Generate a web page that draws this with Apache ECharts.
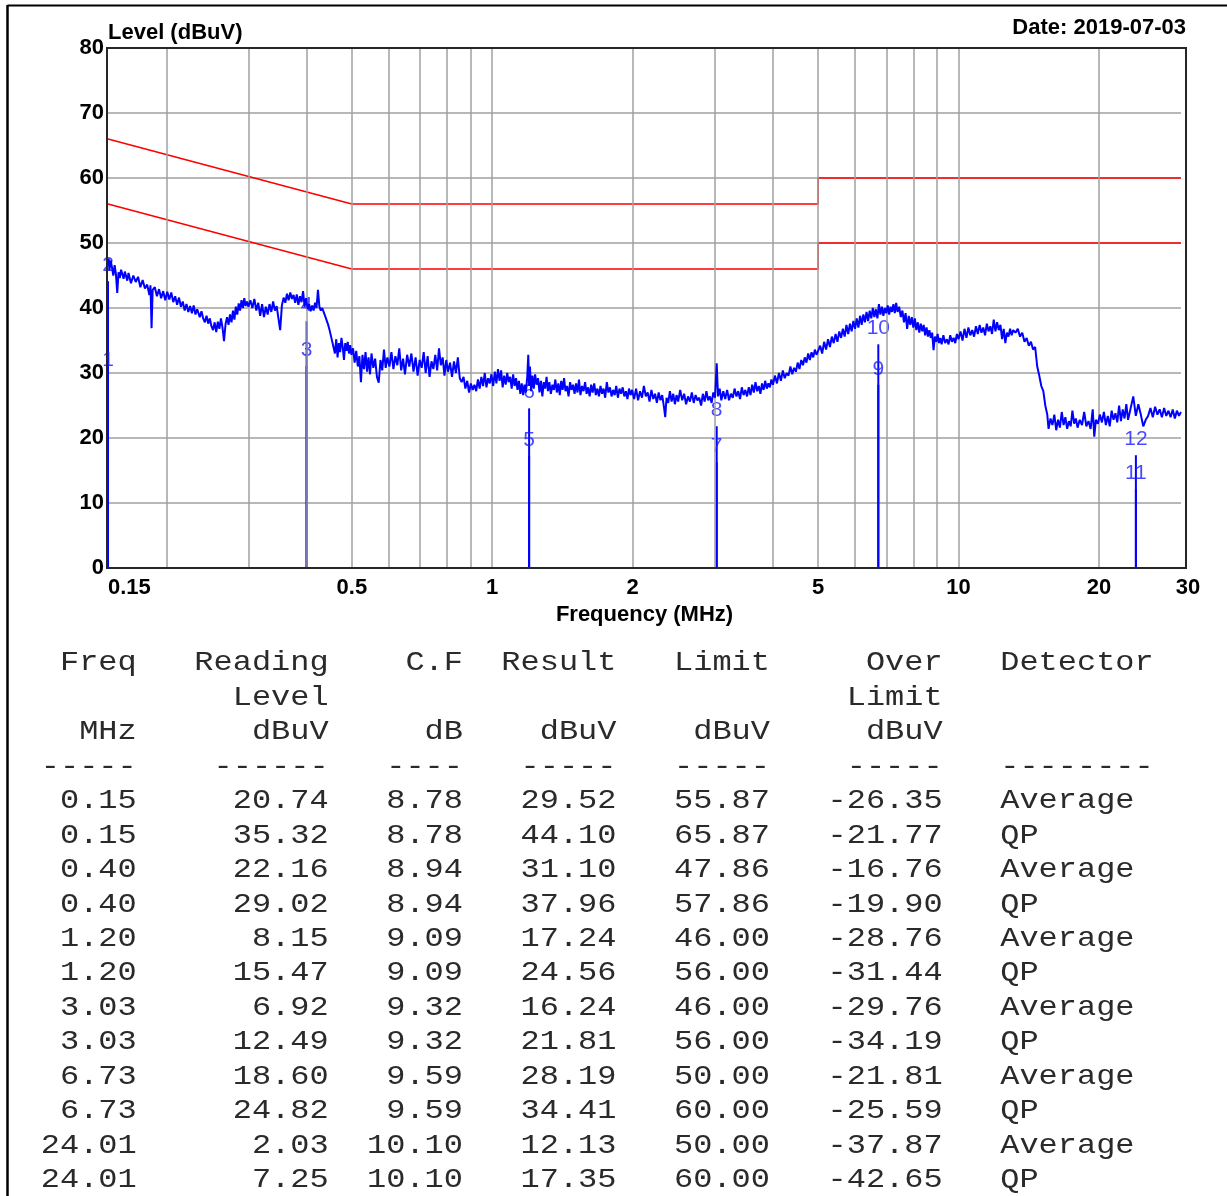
<!DOCTYPE html>
<html><head><meta charset="utf-8">
<script src="https://cdn.jsdelivr.net/npm/echarts@6/dist/echarts.min.js"></script>
<style>html,body{margin:0;padding:0;background:#fff}#c{width:1227px;height:1196px}</style>
</head><body><div id="c"></div>
<script>
// ---------------- data ----------------
const dateText = 'Date: 2019-07-03';
const yTitle = 'Level (dBuV)';
const xTitle = 'Frequency (MHz)';

const gridFreqs = [0.2,0.3,0.4,0.5,0.6,0.7,0.8,0.9,1,2,3,4,5,6,7,8,9,10,20];
const xTickLabels = [0.15,0.5,1,2,5,10,20,30];

const limitFreq = [0.15, 0.5, 5, 5, 30];
const qpLimit   = [66, 56, 56, 60, 60];
const avgLimit  = [56, 46, 46, 50, 50];

const tableFreq = [0.15,0.15,0.40,0.40,1.20,1.20,3.03,3.03,6.73,6.73,24.01,24.01];
const tableReading = [20.74,35.32,22.16,29.02,8.15,15.47,6.92,12.49,18.60,24.82,2.03,7.25];
const tableCF = [8.78,8.78,8.94,8.94,9.09,9.09,9.32,9.32,9.59,9.59,10.10,10.10];
const tableResult = [29.52,44.10,31.10,37.96,17.24,24.56,16.24,21.81,28.19,34.41,12.13,17.35];
const tableLimit = [55.87,65.87,47.86,57.86,46.00,56.00,46.00,56.00,50.00,60.00,50.00,60.00];
const tableOver = [-26.35,-21.77,-16.76,-19.90,-28.76,-31.44,-29.76,-34.19,-21.81,-25.59,-37.87,-42.65];
const tableDetector = ['Average','QP','Average','QP','Average','QP','Average','QP','Average','QP','Average','QP'];
const headerRows = [
  ['Freq','Reading','C.F','Result','Limit','Over','Detector'],
  ['','Level','','','','Limit',''],
  ['MHz','dBuV','dB','dBuV','dBuV','dBuV',''],
  ['-----','------','----','-----','-----','-----','--------']
];

// measured spectrum trace [MHz, dBuV]
const trace = [
[0.150,46.5],[0.1505,47.6],[0.151,45.8],[0.152,47.3],[0.153,46.2],[0.154,45.0],[0.155,46.6],[0.156,45.2],[0.157,42.3],[0.158,45.5],[0.159,44.6],[0.160,45.9],[0.162,44.5],[0.163,45.6],[0.165,44.2],[0.166,45.4],[0.168,43.8],[0.170,45.0],[0.172,44.0],[0.174,44.8],[0.176,43.2],[0.178,44.3],[0.180,43.0],[0.182,43.6],[0.184,42.0],[0.185,43.5],[0.186,36.9],[0.187,42.8],[0.189,43.2],[0.191,41.8],[0.193,42.9],[0.195,41.5],[0.197,42.6],[0.199,41.2],[0.201,42.5],
[0.203,41.3],[0.205,42.4],[0.207,40.9],[0.209,41.8],[0.211,40.5],[0.213,41.6],[0.215,40.2],[0.217,41.0],[0.219,39.6],[0.221,40.6],[0.223,39.4],[0.225,40.3],[0.227,39.2],[0.229,40.4],[0.231,39.0],[0.233,39.8],[0.236,38.6],[0.238,39.5],[0.240,38.4],[0.242,37.8],[0.244,38.8],[0.246,37.6],[0.248,38.4],[0.250,37.2],[0.252,36.6],[0.254,37.8],[0.256,36.3],[0.258,37.9],[0.260,36.8],[0.262,38.4],[0.264,37.0],[0.266,34.9],[0.268,37.5],[0.270,38.6],[0.272,37.4],[0.274,39.0],[0.276,37.8],[0.278,39.6],[0.280,38.2],[0.282,40.2],[0.284,39.0],[0.286,40.7],[0.288,39.6],[0.290,41.2],[0.292,40.0],[0.294,41.5],[0.296,40.3],[0.298,41.0],[0.300,40.2],
[0.303,41.2],[0.306,40.0],[0.309,41.4],[0.312,39.6],[0.315,40.8],[0.318,38.8],[0.321,40.6],[0.324,38.6],[0.327,40.2],[0.330,39.0],[0.333,40.6],[0.336,39.4],[0.339,41.0],[0.342,39.6],[0.345,40.3],[0.348,38.4],[0.351,36.6],[0.354,40.4],[0.357,41.6],[0.360,40.8],[0.363,42.2],[0.366,41.2],[0.369,42.4],[0.372,41.4],[0.375,42.0],[0.378,40.8],[0.381,42.1],[0.384,40.5],[0.387,41.8],[0.390,40.9],[0.393,42.6],[0.396,40.2],[0.399,41.5],[0.402,39.8],[0.405,40.6],[0.408,39.5],[0.411,40.4],[0.414,39.6],[0.417,40.8],[0.420,40.0],[0.423,42.8],[0.426,40.2],[0.429,39.6],[0.432,40.0],[0.436,39.2],[0.440,38.4],[0.444,37.6],[0.448,36.6],[0.452,35.4],[0.456,34.2],[0.460,33.0],[0.463,35.2],[0.466,32.4],[0.469,34.6],[0.472,33.2],[0.475,35.4],[0.478,34.0],[0.481,32.0],[0.484,34.6],[0.487,33.4],[0.490,34.8],[0.493,33.0],[0.496,34.3],[0.499,32.8],
[0.503,33.8],[0.507,31.6],[0.511,33.4],[0.515,31.0],[0.519,32.6],[0.523,28.6],[0.527,32.8],[0.531,30.6],[0.535,33.2],[0.539,30.2],[0.543,32.4],[0.547,29.8],[0.551,33.0],[0.556,30.8],[0.561,32.2],[0.566,29.4],[0.571,28.5],[0.576,32.0],[0.581,30.4],[0.586,33.6],[0.591,30.8],[0.596,32.4],[0.602,31.0],[0.608,33.2],[0.614,30.6],[0.620,32.6],[0.626,31.2],[0.632,33.8],[0.638,30.4],[0.644,32.2],[0.650,29.8],[0.657,32.8],[0.664,31.0],[0.671,33.0],[0.678,30.2],[0.685,32.4],[0.692,29.6],[0.699,32.0],[0.706,30.8],[0.713,33.2],[0.720,30.0],[0.727,32.6],[0.734,29.4],[0.741,31.8],[0.748,30.6],[0.755,32.8],[0.762,30.4],[0.769,33.8],[0.776,31.2],[0.783,32.4],[0.790,29.6],[0.797,32.0],[0.804,30.2],[0.812,31.6],[0.820,29.4],[0.828,31.8],[0.836,30.0],[0.844,32.4],[0.852,29.2],[0.860,28.6],[0.868,29.4],[0.876,27.6],[0.884,28.8],[0.892,27.0],[0.900,28.4],[0.908,27.4],[0.916,28.2],[0.924,27.2],[0.932,29.0],[0.940,27.6],[0.948,29.4],[0.956,28.0],[0.964,30.0],[0.972,27.8],[0.980,29.2],[0.988,28.4],[0.996,29.8],
[1.005,28.0],[1.013,30.2],[1.021,28.4],[1.029,30.6],[1.037,28.8],[1.045,30.4],[1.053,27.8],[1.061,29.6],[1.069,28.2],[1.077,30.0],[1.085,28.6],[1.093,29.4],[1.101,27.6],[1.109,29.8],[1.117,28.0],[1.125,29.2],[1.133,27.4],[1.141,28.8],[1.149,26.8],[1.157,28.4],[1.165,26.6],[1.173,28.2],[1.181,27.0],[1.189,29.4],[1.195,32.8],[1.200,28.0],[1.205,31.0],[1.212,27.2],[1.220,29.6],[1.228,27.6],[1.236,29.8],[1.245,28.2],[1.254,29.2],[1.263,27.0],[1.272,28.8],[1.281,26.4],[1.290,28.6],[1.299,27.6],[1.308,29.4],[1.317,27.2],[1.326,28.6],[1.336,26.8],[1.346,28.2],[1.356,27.4],[1.366,29.0],[1.376,27.0],[1.386,28.4],[1.396,26.6],[1.406,28.8],[1.416,27.4],[1.426,29.2],[1.436,27.2],[1.447,28.0],[1.458,26.4],[1.469,28.6],[1.480,27.4],[1.491,28.2],[1.502,26.8],[1.513,28.4],[1.524,27.0],[1.535,29.0],[1.546,26.6],[1.558,28.0],[1.570,27.2],[1.582,28.6],[1.594,26.8],[1.606,27.8],[1.618,26.4],[1.630,28.2],[1.642,27.0],[1.655,28.4],[1.668,26.6],[1.681,27.6],[1.694,26.4],[1.707,28.0],[1.720,26.8],[1.733,27.6],[1.747,26.2],[1.761,28.6],[1.775,27.0],[1.789,27.8],[1.803,26.4],[1.817,27.4],[1.831,26.6],[1.845,28.0],[1.860,26.2],[1.875,27.6],[1.890,26.8],[1.905,27.8],[1.920,26.4],[1.935,27.2],[1.950,26.0],[1.965,27.6],[1.980,26.6],
[1.995,27.4],[2.015,26.0],[2.035,27.6],[2.055,25.8],[2.075,27.2],[2.095,26.2],[2.115,28.0],[2.135,26.4],[2.155,27.0],[2.175,25.6],[2.195,27.4],[2.215,26.0],[2.235,26.8],[2.255,25.4],[2.275,27.0],[2.295,25.8],[2.315,26.6],[2.335,24.8],[2.350,23.2],[2.365,26.2],[2.385,25.4],[2.405,27.2],[2.425,25.6],[2.445,26.8],[2.465,25.2],[2.485,26.6],[2.505,25.6],[2.53,27.4],[2.555,25.8],[2.58,26.8],[2.605,25.2],[2.63,26.4],[2.655,25.6],[2.68,27.0],[2.705,25.4],[2.73,26.6],[2.755,25.8],[2.78,26.2],[2.805,25.0],[2.83,26.8],[2.855,25.6],[2.88,27.2],[2.905,25.8],[2.93,26.4],[2.955,25.4],[2.98,27.0],[3.005,26.2],[3.03,31.5],[3.05,26.4],[3.075,27.6],[3.10,25.8],[3.13,27.2],[3.16,26.0],[3.19,27.4],[3.22,25.8],[3.25,26.8],[3.28,26.2],[3.31,27.6],[3.34,26.4],[3.37,27.2],[3.40,26.0],[3.43,27.8],[3.46,26.6],[3.49,27.4],[3.52,26.4],[3.55,27.8],[3.58,26.6],[3.61,28.2],[3.64,27.0],[3.67,28.6],[3.70,27.2],[3.73,28.0],[3.76,26.8],[3.79,28.4],[3.82,27.4],[3.85,28.8],[3.88,27.6],[3.91,28.4],[3.94,27.8],[3.97,29.0],[4.00,28.2],[4.04,29.6],[4.08,28.4],[4.12,30.0],[4.16,28.8],[4.20,30.4],[4.24,29.2],[4.28,30.0],[4.32,29.6],[4.36,31.0],[4.40,29.8],[4.44,30.8],[4.48,30.2],[4.52,31.6],[4.56,30.6],[4.60,32.0],[4.64,31.2],[4.68,32.4],[4.72,31.6],[4.76,33.0],[4.80,32.0],[4.84,33.2],[4.88,32.4],[4.92,33.6],[4.96,32.8],[5.00,33.4],
[5.05,34.2],[5.10,33.0],[5.15,34.8],[5.20,33.6],[5.25,35.2],[5.30,34.0],[5.35,35.6],[5.40,34.6],[5.45,36.0],[5.50,34.8],[5.55,36.4],[5.60,35.4],[5.65,36.8],[5.70,35.6],[5.75,37.4],[5.80,36.0],[5.85,37.6],[5.90,36.4],[5.95,38.0],[6.00,36.8],[6.05,38.4],[6.10,37.0],[6.15,38.8],[6.20,37.4],[6.25,39.0],[6.30,37.8],[6.35,39.4],[6.40,38.0],[6.45,39.6],[6.50,38.4],[6.55,40.0],[6.60,38.6],[6.65,39.8],[6.70,38.4],[6.75,40.6],[6.80,39.0],[6.85,40.2],[6.90,38.8],[6.95,40.0],[7.00,39.2],[7.05,40.4],[7.10,39.0],[7.15,40.2],[7.20,39.4],[7.25,40.6],[7.30,39.2],[7.35,40.8],[7.40,39.4],[7.46,40.2],[7.52,38.6],[7.58,39.6],[7.64,37.8],[7.70,39.2],[7.76,36.8],[7.82,38.8],[7.88,37.4],[7.94,38.6],[8.00,37.0],[8.06,38.4],[8.12,36.6],[8.18,37.8],[8.24,36.2],[8.30,37.6],[8.36,36.4],[8.42,37.4],[8.48,35.8],[8.54,37.0],[8.60,35.6],[8.66,36.6],[8.72,35.4],[8.78,36.2],[8.84,33.5],[8.90,35.6],[8.96,34.8],[9.02,36.0],[9.08,34.6],[9.14,35.4],[9.20,34.4],[9.28,35.8],[9.36,34.6],[9.44,35.2],[9.52,34.4],[9.60,35.8],[9.68,34.8],[9.76,35.4],[9.84,34.6],[9.92,36.0],
[10.0,35.2],[10.1,36.4],[10.2,35.0],[10.3,36.8],[10.4,35.4],[10.5,37.0],[10.6,35.8],[10.7,36.6],[10.8,35.6],[10.9,37.2],[11.0,36.0],[11.1,37.4],[11.2,36.2],[11.3,37.0],[11.4,35.8],[11.5,37.6],[11.6,36.4],[11.7,37.2],[11.8,36.0],[11.9,38.2],[12.0,36.4],[12.1,37.8],[12.2,36.6],[12.3,37.4],[12.4,35.2],[12.5,36.8],[12.6,34.6],[12.7,36.2],[12.8,35.6],[12.9,36.8],[13.0,35.8],[13.1,36.6],[13.25,36.2],[13.4,36.8],[13.55,35.6],[13.7,36.2],[13.85,34.8],[14.0,35.4],[14.15,34.2],[14.3,34.8],[14.45,33.6],[14.6,34.0],[14.75,31.0],[14.9,29.6],[15.05,28.0],[15.2,27.2],[15.35,25.0],[15.5,23.6],[15.6,21.4],[15.75,23.0],[15.9,22.0],[16.05,23.6],[16.2,21.2],[16.35,22.8],[16.5,21.6],[16.65,24.0],[16.8,22.0],[16.95,23.2],[17.1,21.4],[17.25,22.6],[17.4,21.8],[17.55,24.2],[17.7,22.2],[17.85,23.0],[18.0,21.6],[18.2,22.8],[18.4,22.0],[18.6,24.0],[18.8,21.8],[19.0,22.6],[19.2,21.4],[19.4,24.4],[19.55,20.2],[19.7,22.8],[19.9,22.2],[20.1,23.6],[20.3,22.4],[20.5,24.0],[20.7,22.0],[20.9,23.4],[21.1,21.8],[21.3,24.2],[21.5,22.8],[21.7,23.8],[21.9,22.4],[22.1,25.0],[22.3,22.6],[22.5,24.4],[22.7,23.0],[22.9,25.2],[23.1,22.8],[23.4,24.6],[23.7,26.4],[24.0,23.4],[24.3,25.2],[24.6,23.6],[24.9,21.8],[25.2,22.8],[25.5,23.4],[25.8,24.6],[26.1,23.2],[26.4,24.8],[26.7,23.6],[27.0,24.4],[27.3,23.2],[27.6,24.6],[27.9,23.4],[28.2,24.2],[28.5,23.2],[28.8,24.4],[29.1,23.0],[29.4,24.2],[29.7,23.4],[30.0,24.0]
];

// ---------------- chart ----------------
const chart = echarts.init(document.getElementById('c'), null, {renderer: 'canvas'});
const SANS = '"Liberation Sans", Arial, sans-serif';
const MONO = '"Liberation Mono", "Courier New", monospace';

const markerData = tableFreq.map((f, i) => [f, tableResult[i], i + 1]);

const allX = Array.from(new Set(gridFreqs.concat(xTickLabels))).sort((a, b) => a - b);
const gridMarkData = allX.map(f => ({
  xAxis: f,
  lineStyle: {color: gridFreqs.includes(f) ? '#a0a0a0' : 'rgba(0,0,0,0)'},
  label: {
    show: xTickLabels.includes(f),
    formatter: String(f),
    position: 'start',
    distance: 9,
    align: f === 0.15 ? 'left' : 'center',
    offset: f === 30 ? [7, 0] : [0, 0],
    color: '#000', fontWeight: 'bold', fontSize: 22, fontFamily: SANS
  }
}));

// table text rows
const fmt = v => v.toFixed(2);
const rowStr = cells => cells[0].padStart(5) + cells[1].padStart(10) + cells[2].padStart(7) +
  cells[3].padStart(8) + cells[4].padStart(8) + cells[5].padStart(9) + (cells[6] ? '   ' + cells[6] : '');
const lines = headerRows.map(rowStr).concat(tableFreq.map((f, i) => rowStr([
  fmt(f), fmt(tableReading[i]), fmt(tableCF[i]), fmt(tableResult[i]), fmt(tableLimit[i]), fmt(tableOver[i]), tableDetector[i]
])));
const tableGraphics = lines.map((s, i) => ({
  type: 'text', x: 40.8, y: 663 + i * 34.45, scaleX: 1.142, silent: true,
  style: {text: s, font: '28px ' + MONO, fill: '#2a2a2a', verticalAlign: 'middle', align: 'left'}
}));

const option = {
  animation: false,
  backgroundColor: '#fff',
  grid: {left: 108, top: 48, width: 1073, height: 520, containLabel: false, outerBoundsMode: 'none'},
  xAxis: {
    type: 'log', logBase: 10, min: 0.15, max: 30,
    axisLine: {show: false}, axisTick: {show: false}, axisLabel: {show: false}, splitLine: {show: false},
    name: xTitle, nameLocation: 'middle', nameGap: 36,
    nameTextStyle: {color: '#000', fontWeight: 'bold', fontSize: 22, fontFamily: SANS}
  },
  yAxis: {
    type: 'value', min: 0, max: 80, interval: 10,
    axisLine: {show: false}, axisTick: {show: false},
    axisLabel: {color: '#000', fontWeight: 'bold', fontSize: 22, fontFamily: SANS, margin: 4},
    splitLine: {lineStyle: {color: '#a0a0a0', width: 1.5}}
  },
  series: [
    {
      type: 'line', data: [], z: 1, silent: true,
      markLine: {silent: true, symbol: 'none', animation: false,
        lineStyle: {color: '#a0a0a0', width: 1.5, type: 'solid'}, data: gridMarkData}
    },
    {type: 'line', data: limitFreq.map((f, i) => [f, qpLimit[i]]), showSymbol: false, z: 3,
      lineStyle: {color: '#ff0000', width: 1.6}},
    {type: 'line', data: limitFreq.map((f, i) => [f, avgLimit[i]]), showSymbol: false, z: 3,
      lineStyle: {color: '#ff0000', width: 1.6}},
    {
      type: 'custom', data: markerData, z: 4, encode: {x: 0, y: 1},
      renderItem: (params, api) => {
        const p0 = api.coord([api.value(0), 0]);
        const p1 = api.coord([api.value(0), api.value(1)]);
        return {type: 'line', shape: {x1: p0[0], y1: p0[1], x2: p1[0], y2: p1[1]},
          style: {stroke: '#0000ff', lineWidth: 2}};
      }
    },
    {
      type: 'scatter', data: markerData, z: 4, symbolSize: 1, itemStyle: {color: 'rgba(0,0,0,0)'},
      label: {show: true, position: 'top', distance: 5, formatter: p => String(p.value[2]),
        color: '#1a1aff', fontSize: 21, fontFamily: SANS}
    },
    {type: 'line', data: trace, showSymbol: false, z: 5, lineStyle: {color: '#0000ff', width: 2}}
  ],
  graphic: [
    {type: 'line', silent: true, shape: {x1: 7.5, y1: 5, x2: 7.5, y2: 1196}, style: {stroke: '#000', lineWidth: 2.5}},
    {type: 'line', silent: true, shape: {x1: 7.5, y1: 5.5, x2: 1227, y2: 5.5}, style: {stroke: '#000', lineWidth: 2}},
    {type: 'rect', silent: true, z: 10, shape: {x: 107, y: 48, width: 1079, height: 520},
      style: {fill: null, stroke: '#262626', lineWidth: 2}},
    {type: 'text', silent: true, x: 108, y: 33,
      style: {text: yTitle, font: 'bold 22px ' + SANS, fill: '#000', verticalAlign: 'middle', align: 'left'}},
    {type: 'text', silent: true, x: 1186, y: 28,
      style: {text: dateText, font: 'bold 22px ' + SANS, fill: '#000', verticalAlign: 'middle', align: 'right'}}
  ].concat(tableGraphics)
};
chart.setOption(option);
</script>
</body></html>
